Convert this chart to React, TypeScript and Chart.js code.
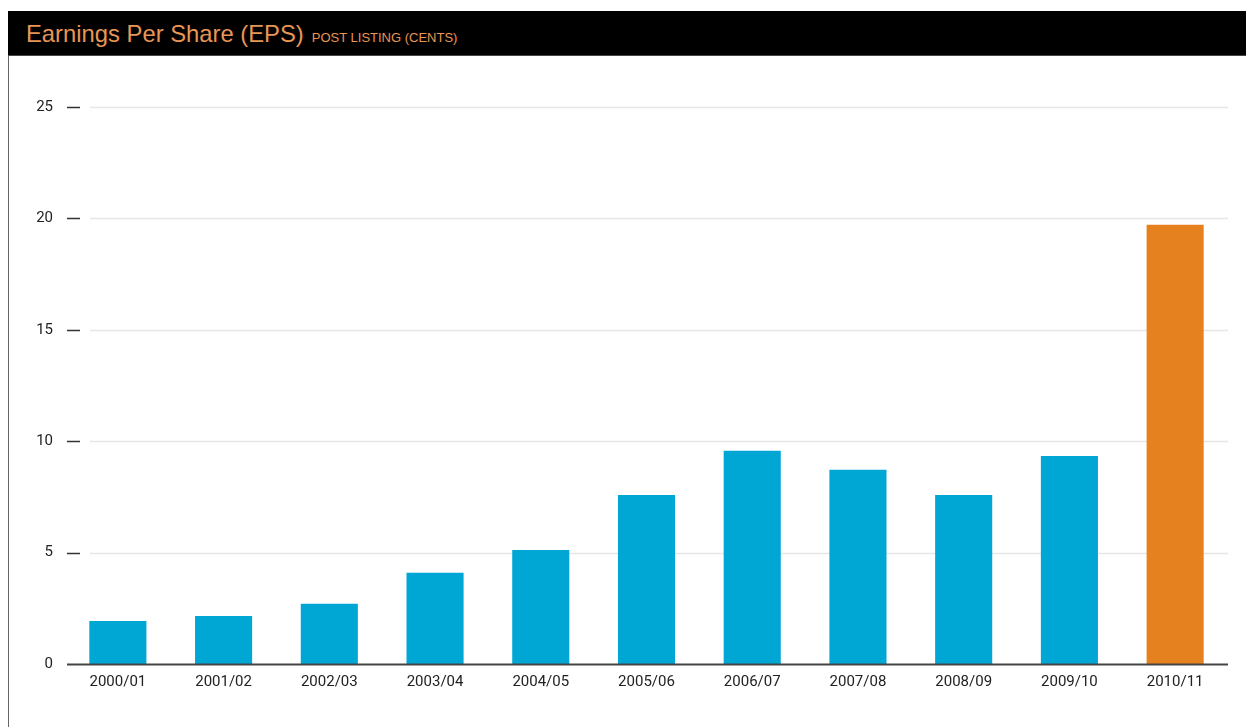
import React, { useEffect, useRef } from "react";
import { Chart, registerables } from "chart.js";

Chart.register(...registerables);

const categories = ["2000/01", "2001/02", "2002/03", "2003/04", "2004/05", "2005/06", "2006/07", "2007/08", "2008/09", "2009/10", "2010/11"];
const epsValues = [1.93, 2.15, 2.7, 4.09, 5.12, 7.59, 9.57, 8.72, 7.59, 9.34, 19.72];
const barColors = ["#00A6D4", "#00A6D4", "#00A6D4", "#00A6D4", "#00A6D4", "#00A6D4", "#00A6D4", "#00A6D4", "#00A6D4", "#00A6D4", "#E5821F"];
const yTicks = [0, 5, 10, 15, 20, 25];
const titleText = "Earnings Per Share (EPS)";
const subtitleText = "POST LISTING (CENTS)";

const gridPlugin = {
  id: "customGrid",
  beforeDatasetsDraw(chart: any) {
    const { ctx, chartArea, scales } = chart;
    const y = scales.y;
    ctx.save();
    yTicks.forEach((v) => {
      const py = Math.round(y.getPixelForValue(v)) + 0.5;
      if (v !== 0) {
        ctx.strokeStyle = "#e6e6e6";
        ctx.lineWidth = 1.5;
        ctx.beginPath();
        ctx.moveTo(chartArea.left + 25, py);
        ctx.lineTo(chartArea.right, py);
        ctx.stroke();
        ctx.strokeStyle = "#333";
        ctx.lineWidth = 1.5;
        ctx.beginPath();
        ctx.moveTo(chartArea.left + 2, py);
        ctx.lineTo(chartArea.left + 15, py);
        ctx.stroke();
      }
    });
    ctx.restore();
  },
  afterDatasetsDraw(chart: any) {
    const { ctx, chartArea, scales } = chart;
    const py = Math.round(scales.y.getPixelForValue(0)) + 0.5;
    ctx.save();
    ctx.strokeStyle = "#444";
    ctx.lineWidth = 1.8;
    ctx.beginPath();
    ctx.moveTo(chartArea.left + 2, py);
    ctx.lineTo(chartArea.right, py);
    ctx.stroke();
    ctx.restore();
  },
};

export default function App() {
  const canvasRef = useRef<HTMLCanvasElement | null>(null);

  useEffect(() => {
    document.documentElement.style.overflow = "hidden";
    const chart = new Chart(canvasRef.current as HTMLCanvasElement, {
      type: "bar",
      data: {
        labels: categories,
        datasets: [
          {
            data: epsValues,
            backgroundColor: barColors,
            borderWidth: 0,
            barPercentage: 0.54,
            categoryPercentage: 1,
          },
        ],
      },
      options: {
        animation: false,
        responsive: true,
        maintainAspectRatio: false,
        layout: { padding: { top: 51, right: 18, left: 0, bottom: 0 } },
        plugins: { legend: { display: false }, tooltip: { enabled: false }, title: { display: false } },
        scales: {
          x: {
            grid: { display: false, drawTicks: false },
            border: { display: false },
            ticks: {
              color: "#222",
              padding: 9,
              maxRotation: 0,
              autoSkip: false,
              font: { family: "Roboto", size: 15 },
            },
            afterFit(scale: any) {
              scale.height = 63;
            },
          },
          y: {
            min: 0,
            max: 25,
            grid: { display: false, drawTicks: false },
            border: { display: false },
            afterBuildTicks(scale: any) {
              scale.ticks = yTicks.map((v) => ({ value: v }));
            },
            ticks: {
              color: "#222",
              padding: 12,
              font: { family: "Roboto", size: 15 },
            },
            afterFit(scale: any) {
              scale.width = 56;
            },
          },
        },
      },
      plugins: [gridPlugin],
    });
    return () => chart.destroy();
  }, []);

  return (
    <div style={{ position: "fixed", left: 8, top: 11, width: 1238, height: 717 }}>
      <div
        style={{
          background: "#000",
          width: 1238,
          height: 45,
          borderBottom: "1px solid #444",
          display: "flex",
          alignItems: "baseline",
          paddingLeft: 18,
          paddingTop: 11,
          boxSizing: "border-box",
          fontFamily: "'Liberation Sans', Arial, sans-serif",
          color: "#E89655",
          whiteSpace: "nowrap",
        }}
      >
        <span style={{ fontSize: 23.8, lineHeight: 1 }}>{titleText}</span>
        <span style={{ fontSize: 13, lineHeight: 1, marginLeft: 8 }}>{subtitleText}</span>
      </div>
      <div style={{ borderLeft: "1px solid #666", width: 1237, height: 671 }}>
        <div style={{ position: "relative", width: 1237, height: 671 }}>
          <canvas ref={canvasRef} />
        </div>
      </div>
    </div>
  );
}
